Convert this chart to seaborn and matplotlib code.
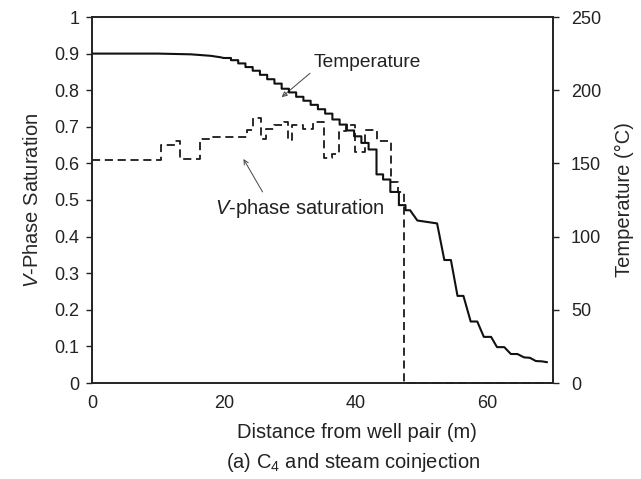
import numpy as np
import pandas as pd
import matplotlib
matplotlib.use("Agg")
import matplotlib.pyplot as plt
import seaborn as sns

# ---------------- data ----------------
# V-phase saturation (step function, value holds from each distance to the next)
sat_dist = [0, 10.5, 12.6, 13.4, 16.4, 18.3, 23.5, 24.4, 25.6, 26.4, 27.7, 29.2,
            29.7, 30.3, 32.0, 33.5, 35.3, 36.5, 37.5, 38.6, 40.0, 41.5, 43.2,
            45.4, 46.4, 47.4, 70.0]
sat_val = [0.61, 0.65, 0.662, 0.613, 0.668, 0.672, 0.69, 0.724, 0.668, 0.694,
           0.705, 0.713, 0.664, 0.705, 0.694, 0.713, 0.615, 0.625, 0.688, 0.705,
           0.632, 0.69, 0.66, 0.55, 0.522, 0.0, 0.0]

# Temperature (deg C): smooth head, stair-stepped middle, tail
temp_head_dist = [0, 10, 15, 18, 19.5]
temp_head_val = [225.0, 225.0, 224.5, 223.5, 222.5]
temp_step_start = [20.0, 21.1, 22.2, 23.3, 24.4, 25.5, 26.6, 27.7, 28.8, 29.9,
                   31.0, 32.1, 33.2, 34.3, 35.4, 36.5, 37.6, 38.7, 39.8, 40.9,
                   42.0, 43.2, 44.2, 45.3, 46.6, 47.6]
temp_step_level = [222.0, 220.5, 218.3, 215.8, 213.3, 210.5, 207.5, 204.5, 201.0,
                   198.5, 195.5, 192.8, 190.0, 187.0, 184.0, 180.0, 176.5, 172.5,
                   168.5, 164.0, 159.5, 142.5, 139.0, 130.5, 121.5, 118.0]
temp_step_end = 48.3
temp_tail_dist = [49.4, 52.4, 53.5, 54.5, 55.5, 56.4, 57.5, 58.5, 59.5, 60.6,
                  61.5, 62.6, 63.6, 64.6, 65.6, 66.5, 67.4, 68.3, 69.1]
temp_tail_val = [111.0, 109.0, 84.0, 84.0, 59.5, 59.5, 42.0, 42.0, 31.5, 31.5,
                 24.5, 24.5, 19.8, 19.8, 17.5, 17.2, 15.0, 14.8, 14.2]

x_ticks = [0, 20, 40, 60]
y_left_ticks = [0, 0.1, 0.2, 0.3, 0.4, 0.5, 0.6, 0.7, 0.8, 0.9, 1]
y_left_labels = ["0", "0.1", "0.2", "0.3", "0.4", "0.5", "0.6", "0.7", "0.8", "0.9", "1"]
y_right_ticks = [0, 50, 100, 150, 200, 250]

# build temperature polyline vertices (stairs drawn with flat treads)
t_x, t_y = list(temp_head_dist), list(temp_head_val)
ends = temp_step_start[1:] + [temp_step_end]
for s, e, lv in zip(temp_step_start, ends, temp_step_level):
    t_x += [s, e]
    t_y += [lv, lv]
t_x += temp_tail_dist
t_y += temp_tail_val
temp_df = pd.DataFrame({"dist": t_x, "temp": t_y})
sat_df = pd.DataFrame({"dist": sat_dist, "sat": sat_val})

# ---------------- style ----------------
sns.set_theme(style="white")
plt.rcParams["font.family"] = ["Liberation Sans", "DejaVu Sans"]
plt.rcParams["mathtext.fontset"] = "custom"
plt.rcParams["mathtext.rm"] = "Liberation Sans"
plt.rcParams["mathtext.it"] = "Liberation Sans:italic"
plt.rcParams["text.color"] = "#222222"

fig = plt.figure(figsize=(6.41, 4.79), dpi=100)
ax = fig.add_axes([92 / 641, 1 - 383 / 479, (553 - 92) / 641, (383 - 17) / 479])
ax2 = ax.twinx()

# saturation (dashed step)
sns.lineplot(data=sat_df, x="dist", y="sat", ax=ax, estimator=None, sort=False,
             drawstyle="steps-post", color="#1a1a1a", linewidth=1.3, clip_on=False)
ax.lines[0].set_dashes((4.5, 2.6))

# temperature (solid)
sns.lineplot(data=temp_df, x="dist", y="temp", ax=ax2, estimator=None, sort=False,
             color="#111111", linewidth=1.5)

ax.set_xlim(0, 70)
ax.set_ylim(0, 1)
ax2.set_ylim(0, 250)
ax.set_xticks(x_ticks)
ax.set_yticks(y_left_ticks)
ax.set_yticklabels(y_left_labels)
ax2.set_yticks(y_right_ticks)

for a in (ax, ax2):
    for sp in a.spines.values():
        sp.set_color("#222222")
        sp.set_linewidth(1.2)
    a.tick_params(direction="out", length=4, width=1.0, color="#222222",
                  labelsize=13, labelcolor="#222222")
ax.tick_params(axis="y", pad=5)
ax2.tick_params(axis="y", pad=9)
ax.tick_params(axis="x", pad=5)

ax.set_xlabel("")
ax.set_ylabel(r"$\it{V}$-Phase Saturation", fontsize=14.5, labelpad=9)
ax2.set_ylabel("Temperature (°C)", fontsize=14.5, labelpad=10)

fig.text(357 / 641, 1 - 433 / 479, "Distance from well pair (m)", fontsize=14.5,
         ha="center", va="center", color="#222222")
fig.text(353 / 641, 1 - 463 / 479, r"(a) C$_4$ and steam coinjection", fontsize=14.5,
         ha="center", va="center", color="#222222")

# annotations
ax.annotate("Temperature", xy=(28.8, 0.781), xytext=(33.6, 0.877),
            fontsize=13.8, ha="left", va="center", color="#222222",
            arrowprops=dict(arrowstyle="-|>", color="#444444", lw=0.7,
                            mutation_scale=8, fill=False, shrinkA=0, shrinkB=0,
                            relpos=(0, 0)))
ax.annotate(r"$\it{V}$-phase saturation", xy=(23.0, 0.612), xytext=(31.6, 0.478),
            fontsize=14.5, ha="center", va="center", color="#222222")
ax.annotate("", xy=(23.0, 0.612), xytext=(25.9, 0.522),
            arrowprops=dict(arrowstyle="->", color="#444444", lw=0.7,
                            mutation_scale=8, shrinkA=0, shrinkB=0))

fig.savefig("out.png", dpi=100)
